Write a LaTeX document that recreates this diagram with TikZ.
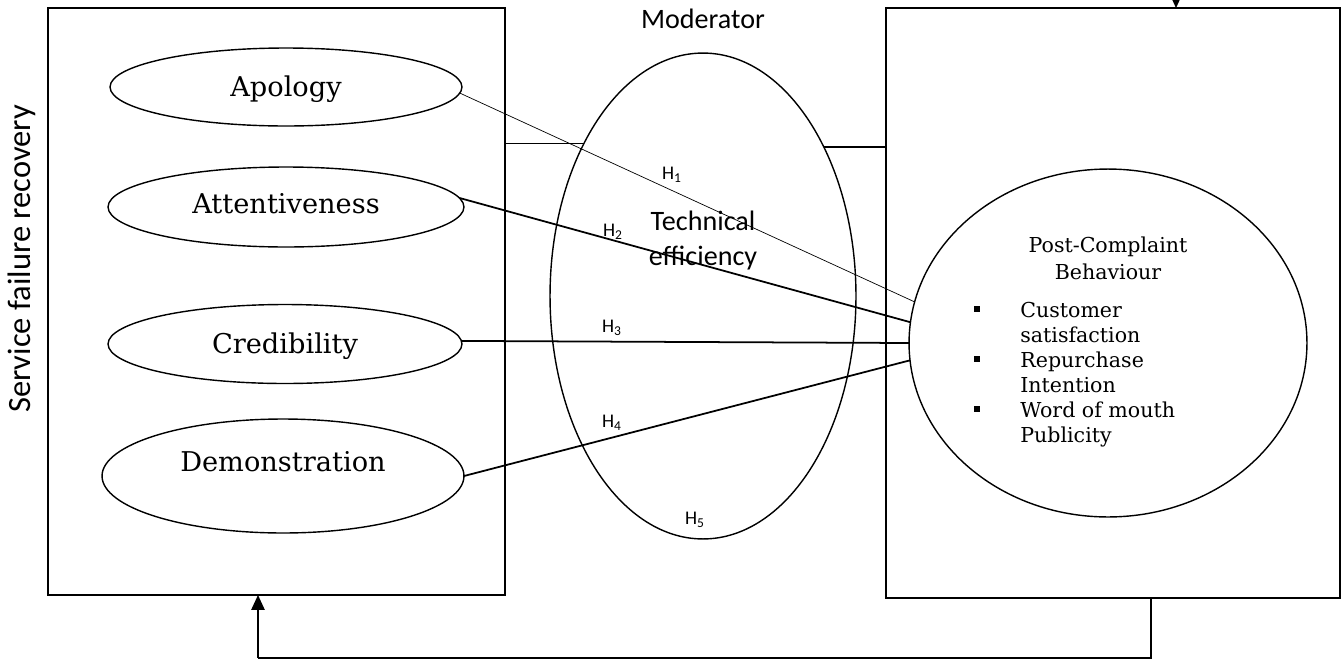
\documentclass[tikz,border=0pt]{standalone}
\usepackage{fontspec}
\setmainfont{DejaVu Serif}
\newfontfamily\sansf{Carlito}
\usetikzlibrary{arrows.meta,shapes.geometric}
\tikzset{
  frame/.style={draw, line width=0.9pt, inner sep=0pt, outer sep=0pt},
  oval/.style={draw, ellipse, line width=0.8pt, inner sep=0pt, outer sep=0pt},
  ltext/.style={font=\fontsize{15.5}{18}\selectfont, anchor=base, inner sep=0pt},
  rtext/.style={font=\fontsize{11.7}{14.2}\selectfont, align=left, anchor=base west, inner sep=0pt},
  stext/.style={font=\sansf\fontsize{16}{19.5}\selectfont, inner sep=0pt, align=center},
  hlab/.style={font=\sansf\fontsize{11}{13}\selectfont, inner sep=0pt},
  bul/.style={fill, minimum size=3.4pt, inner sep=0pt},
  link/.style={line width=1pt},
  tri/.style={-{Triangle[width=7.5pt,length=8.5pt]}}
}
\begin{document}
\begin{tikzpicture}[x=0.02cm,y=-0.02cm]
\useasboundingbox (0,0) rectangle (1342,660);
% boxes
\node[frame, minimum width=9.14cm, minimum height=11.74cm] (lb) at (276.5,301.5) {};
\node[frame, minimum width=9.08cm, minimum height=11.8cm] (rb) at (1113,303) {};
% side label
\node[font=\sansf\fontsize{18.5}{22}\selectfont, rotate=90, inner sep=0pt] (sfr) at (22,259) {Service failure recovery};
% left ellipses
\node[oval, minimum width=7.04cm, minimum height=1.56cm] (ap) at (286,87) {};
\node[oval, minimum width=7.12cm, minimum height=1.6cm] (at) at (286,207) {};
\node[oval, minimum width=7.08cm, minimum height=1.58cm] (cr) at (285,344) {};
\node[oval, minimum width=7.24cm, minimum height=2.28cm] (dm) at (283,476) {};
\node[ltext] (apt) at (286,96) {Apology};
\node[ltext] (att) at (286,213) {Attentiveness};
\node[ltext] (crt) at (285,353) {Credibility};
\node[ltext] (dmt) at (283,471) {Demonstration};
% moderator
\node[stext, anchor=base] (modt) at (703,28) {Moderator};
\node[oval, minimum width=6.12cm, minimum height=9.72cm] (mod) at (703,296) {};
\node[stext, anchor=base] (tech) at (703,265) {Technical\\efficiency};
\draw[line width=0.8pt] (mod.128.66) -- (lb.east |- mod.128.66);
\draw[line width=0.8pt] (mod.51.34) -- (rb.west |- mod.51.34);
% post-complaint ellipse
\node[oval, minimum width=7.96cm, minimum height=6.96cm] (pcb) at (1108,343) {};
\node[font=\fontsize{11.7}{15.3}\selectfont, align=center, anchor=base, inner sep=0pt] (pcbt) at (1108,279) {Post-Complaint\\Behaviour};
\node[bul] (b1) at (977,309) {};
\node[bul] (b2) at (977,359) {};
\node[bul] (b3) at (977,409) {};
\node[rtext] (t1) at (1020,342) {Customer\\satisfaction};
\node[rtext] (t2) at (1020,392) {Repurchase\\Intention};
\node[rtext] (t3) at (1020,442) {Word of mouth\\Publicity};
% hypotheses links
\draw[line width=0.4pt] (ap.-2.3) -- (pcb.168.4);
\draw[link] (at.3.3) -- (pcb.174.6);
\draw[link] (cr.1) -- (pcb.180);
\draw[link] (dm.0.6) -- (pcb.185.1);
\node[hlab] (h1) at (672,175) {H\textsubscript{1}};
\node[hlab] (h2) at (613,232) {H\textsubscript{2}};
\node[hlab] (h3) at (612,328) {H\textsubscript{3}};
\node[hlab] (h4) at (612,423) {H\textsubscript{4}};
\node[hlab] (h5) at (695,520) {H\textsubscript{5}};
% feedback loop
\coordinate (fb) at (1151,658);
\coordinate (fa) at (258,658);
\draw[line width=0.6pt] (rb.south -| fb) -- (fb) -- (fa);
\draw[line width=1.1pt, tri] (fa) -- (lb.south -| fa);
% top arrow
\coordinate (ta) at (1176,-30);
\draw[line width=1.1pt, tri] (ta) -- (rb.north -| ta);
\end{tikzpicture}
\end{document}
